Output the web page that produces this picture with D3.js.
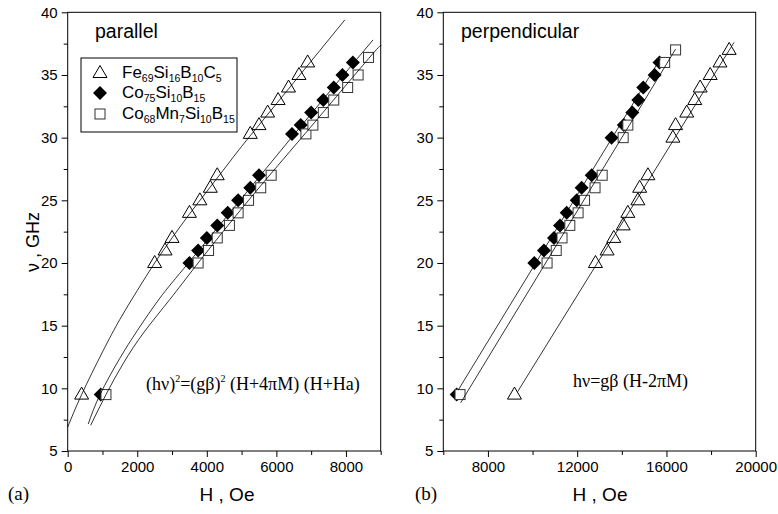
<!DOCTYPE html>
<html>
<head>
<meta charset="utf-8">
<style>
  body { margin: 0; background: #fff; }
  svg { display: block; font-family: "Liberation Sans", Arial, sans-serif; }
  .axis path, .axis line { stroke: #000; stroke-width: 1; }
  .axis text { font-size: 15px; fill: #000; font-family: "Liberation Sans", Arial, sans-serif; }
  .fit { stroke: #000; stroke-width: 0.8; fill: none; }
</style>
</head>
<body>
<script src="https://cdn.jsdelivr.net/npm/d3@7"></script>
<script>

// ---- data: [H (Oe), nu (GHz)] ----
// (a) parallel
var feParallel = [[400,9.5],[2500,20],[2800,21],[3000,22],[3500,24],[3800,25],[4100,26],[4300,27],
  [5250,30.3],[5500,31],[5750,32],[6050,33],[6350,34],[6650,35],[6900,36]];
var coParallel = [[950,9.5],[3500,20],[3750,21],[4000,22],[4300,23],[4600,24],[4900,25],[5250,26],[5500,27],
  [6450,30.3],[6700,31],[7000,32],[7350,33],[7650,34],[7900,35],[8200,36]];
var comnParallel = [[1100,9.5],[3750,20],[4050,21],[4300,22],[4650,23],[4900,24],[5200,25],[5550,26],[5850,27],
  [6850,30.3],[7050,31],[7350,32],[7650,33],[8050,34],[8350,35],[8650,36.4]];
// fit curves
var feParallelFit = [[0,6.9],[400,9.5],[1000,12.9],[1500,15.5],[2000,17.8],[2500,20.0],[3000,22.0],[3500,23.9],
  [4000,25.7],[4500,27.5],[5000,29.3],[5500,31.0],[6000,32.7],[6500,34.4],[7000,36.1],[7500,37.8],[7970,39.4]];
var coParallelFit = [[590,7.15],[930,9.5],[1500,12.4],[2000,14.6],[2650,17.2],[3500,20.1],[5250,26.0],[7000,31.9],[8780,37.8]];
var comnParallelFit = [[660,7.05],[1100,9.5],[1600,12.0],[2200,14.5],[2940,17.1],[3750,20.0],[5200,25.0],[6850,30.4],[8650,36.3],[9000,37.3]];

// (b) perpendicular
var fePerp = [[9190,9.5],[12820,20],[13340,21],[13640,22],[14060,23],[14270,24],[14720,25],[14800,26],[15170,27],
  [16290,30],[16410,31],[16910,32],[17270,33],[17510,34],[17960,35],[18400,36],[18810,37]];
var coPerp = [[6600,9.5],[10080,20],[10510,21],[10960,22],[11230,23],[11530,24],[11980,25],[12200,26],[12650,27],
  [13540,30],[14090,31],[14470,32],[14740,33],[14960,34],[15470,35],[15690,36]];
var comnPerp = [[6750,9.5],[10650,20],[11060,21],[11320,22],[11670,23],[12040,24],[12330,25],[12800,26],[13120,27],
  [14060,30],[14270,31],[15920,36],[16410,37]];
var fePerpFit = [[9330,9.73],[19030,37.6]];
var coPerpFit = [[6670,9.87],[15730,36.3]];
var comnPerpFit = [[6780,8.85],[16410,37.06]];

var yTicks = [5,10,15,20,25,30,35,40];
var yMinor = [7.5,12.5,17.5,22.5,27.5,32.5,37.5];
var xTicksA = [0,2000,4000,6000,8000];
var xMinorA = [1000,3000,5000,7000,9000];
var xTicksB = [8000,12000,16000,20000];
var xMinorB = [6000,10000,14000,18000];

var W = 778, H = 514;
var svg = d3.select("body").append("svg").attr("width", W).attr("height", H);
svg.append("rect").attr("width", W).attr("height", H).attr("fill", "#fff");

var plotTop = 12.3, plotBottom = 451;

function panel(cfg) {
  var x = d3.scaleLinear().domain(cfg.xDomain).range([cfg.left, cfg.right]);
  var y = d3.scaleLinear().domain([5, 40]).range([plotBottom, plotTop]);
  var g = svg.append("g");

  // frame
  g.append("rect").attr("x", cfg.left).attr("y", plotTop)
    .attr("width", cfg.right - cfg.left).attr("height", plotBottom - plotTop)
    .attr("fill", "none").attr("stroke", "#000").attr("stroke-width", 1);

  g.append("g").attr("class", "axis").attr("transform", "translate(0," + plotBottom + ")")
    .call(d3.axisBottom(x).tickValues(cfg.xTicks).tickSize(6).tickPadding(4).tickFormat(d3.format("d")));
  g.append("g").attr("class", "axis").attr("transform", "translate(0," + plotBottom + ")")
    .call(d3.axisBottom(x).tickValues(cfg.xMinor).tickSize(4).tickFormat(""));
  g.append("g").attr("class", "axis").attr("transform", "translate(" + cfg.left + ",0)")
    .call(d3.axisLeft(y).tickValues(yTicks).tickSize(6).tickPadding(4));
  g.append("g").attr("class", "axis").attr("transform", "translate(" + cfg.left + ",0)")
    .call(d3.axisLeft(y).tickValues(yMinor).tickSize(4).tickFormat(""));
  g.selectAll(".axis .domain").remove();

  // markers first, fitted lines on top
  drawTri(g, cfg.fe, x, y);
  drawDia(g, cfg.co, x, y);
  drawSq(g, cfg.comn, x, y);

  var line = d3.line().x(d => x(d[0])).y(d => y(d[1])).curve(cfg.curve);
  cfg.fits.forEach(function(f) {
    g.append("path").datum(f).attr("class", "fit").attr("d", line);
  });
  return {x: x, y: y, g: g};
}

function drawTri(g, data, x, y) {
  g.selectAll(null).data(data).enter().append("path")
    .attr("d", "M0,-7.5L7,4.5L-7,4.5Z")
    .attr("transform", d => "translate(" + x(d[0]) + "," + y(d[1]) + ")")
    .attr("fill", "#fff").attr("stroke", "#000").attr("stroke-width", 1);
}
function drawDia(g, data, x, y) {
  g.selectAll(null).data(data).enter().append("path")
    .attr("d", "M0,-7L7,0L0,7L-7,0Z")
    .attr("transform", d => "translate(" + x(d[0]) + "," + y(d[1]) + ")")
    .attr("fill", "#000");
}
function drawSq(g, data, x, y) {
  g.selectAll(null).data(data).enter().append("rect")
    .attr("x", d => x(d[0]) - 5).attr("y", d => y(d[1]) - 5)
    .attr("width", 10).attr("height", 10)
    .attr("fill", "#fff").attr("stroke", "#333").attr("stroke-width", 1);
}

var A = panel({
  xDomain: [0, 9000], left: 67.7, right: 380.7,
  xTicks: xTicksA, xMinor: xMinorA, curve: d3.curveNatural,
  fits: [feParallelFit, coParallelFit, comnParallelFit],
  fe: feParallel, co: coParallel, comn: comnParallel
});
var B = panel({
  xDomain: [6000, 20000], left: 443.3, right: 755.7,
  xTicks: xTicksB, xMinor: xMinorB, curve: d3.curveLinear,
  fits: [fePerpFit, coPerpFit, comnPerpFit],
  fe: fePerp, co: coPerp, comn: comnPerp
});

// panel titles
svg.append("text").attr("x", 95).attr("y", 38).attr("font-size", 19.5).text("parallel");
svg.append("text").attr("x", 461).attr("y", 38).attr("font-size", 19.5).text("perpendicular");

// axis titles
svg.append("text").attr("x", 227).attr("y", 501).attr("font-size", 19).attr("text-anchor", "middle").text("H , Oe");
svg.append("text").attr("x", 600).attr("y", 501).attr("font-size", 19).attr("text-anchor", "middle").text("H , Oe");
svg.append("text").attr("transform", "translate(39,242) rotate(-90)")
  .attr("font-size", 18).attr("text-anchor", "middle").text("\u03BD , GHz");

// (a) (b)
svg.append("text").attr("x", 8).attr("y", 500).attr("font-family", "Liberation Serif, Times New Roman, serif")
  .attr("font-size", 19).text("(a)");
svg.append("text").attr("x", 415).attr("y", 500).attr("font-family", "Liberation Serif, Times New Roman, serif")
  .attr("font-size", 19).text("(b)");

// equations
var eqA = svg.append("text").attr("x", 146).attr("y", 390)
  .attr("font-family", "Liberation Serif, Times New Roman, serif").attr("font-size", 18);
eqA.append("tspan").text("(h\u03BD)");
eqA.append("tspan").attr("font-size", 10).attr("dy", -8).text("2");
eqA.append("tspan").attr("dy", 8).text("=(g\u03B2)");
eqA.append("tspan").attr("font-size", 10).attr("dy", -8).text("2");
eqA.append("tspan").attr("dy", 8).text(" (H+4\u03C0M) (H+Ha)");

svg.append("text").attr("x", 573).attr("y", 387)
  .attr("font-family", "Liberation Serif, Times New Roman, serif").attr("font-size", 18)
  .text("h\u03BD=g\u03B2 (H-2\u03C0M)");

// legend
var leg = svg.append("g");
leg.append("rect").attr("x", 81).attr("y", 58).attr("width", 156).attr("height", 74)
  .attr("fill", "#fff").attr("stroke", "#000").attr("stroke-width", 1);
var legendNames = [
  [["Fe",""],["69","s"],["Si",""],["16","s"],["B",""],["10","s"],["C",""],["5","s"]],
  [["Co",""],["75","s"],["Si",""],["10","s"],["B",""],["15","s"]],
  [["Co",""],["68","s"],["Mn",""],["7","s"],["Si",""],["10","s"],["B",""],["15","s"]]
];
var legendY = [73, 93, 114];
var lx = d3.scaleLinear().domain([0, 1]).range([100, 101]);
var ly = d3.scaleLinear().domain([0, 1]).range([0, 1]);
drawTri(leg, [[0, legendY[0]]], lx, ly);
drawDia(leg, [[0, legendY[1]]], lx, ly);
drawSq(leg, [[0, legendY[2]]], lx, ly);
legendNames.forEach(function(parts, i) {
  var t = leg.append("text").attr("x", 122).attr("y", legendY[i] + 5).attr("font-size", 17);
  var sub = false;
  parts.forEach(function(p) {
    var s = t.append("tspan").text(p[0]);
    if (p[1] === "s") { s.attr("font-size", 10.5).attr("dy", sub ? 0 : 4); sub = true; }
    else { if (sub) s.attr("dy", -4); sub = false; }
  });
});

</script>
</body>
</html>
